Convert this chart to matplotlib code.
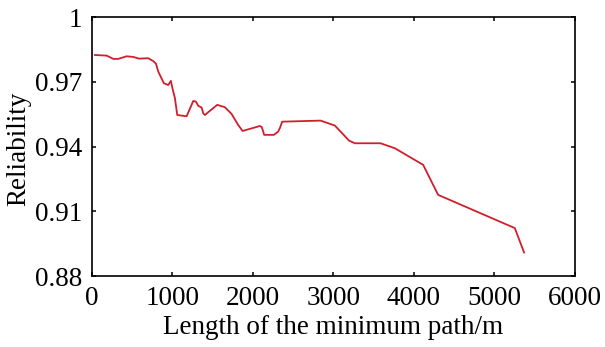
import matplotlib
matplotlib.use("Agg")
from matplotlib import pyplot as plt

# Datos
longitud = [37, 183, 265, 327, 431, 513, 588, 699, 761, 795, 824, 894, 948, 981,
            1002, 1031, 1060, 1176, 1259, 1292, 1320, 1363, 1383, 1404, 1445, 1557,
            1652, 1735, 1817, 1872, 2087, 2112, 2140, 2261, 2314, 2335, 2364, 2841,
            3019, 3196, 3267, 3586, 3764, 4116, 4302, 5255, 5370]
fiabilidad = [0.9824, 0.9821, 0.9806, 0.9806, 0.9818, 0.9815, 0.9807, 0.9809, 0.9796,
              0.9784, 0.9747, 0.9693, 0.9685, 0.9704, 0.9667, 0.9624, 0.9546, 0.9540,
              0.9611, 0.9608, 0.9589, 0.9580, 0.9554, 0.9546, 0.9559, 0.9593, 0.9582,
              0.9551, 0.9500, 0.9472, 0.9495, 0.9489, 0.9454, 0.9454, 0.9469, 0.9485,
              0.9515, 0.9520, 0.9497, 0.9427, 0.9415, 0.9415, 0.9392, 0.9315, 0.9176,
              0.9022, 0.8909]

xticks = [0, 1000, 2000, 3000, 4000, 5000, 6000]
yticks = [0.88, 0.91, 0.94, 0.97, 1.0]
ytick_labels = ["0.88", "0.91", "0.94", "0.97", "1"]

plt.rcParams['font.family'] = ['Liberation Serif', 'DejaVu Serif']

fig = plt.figure(figsize=(6.05, 3.47), dpi=100)
ax = fig.add_axes([0.152, 0.2046, 0.798, 0.7464])

ax.plot(longitud, fiabilidad, color='#d01f2b', linewidth=1.3)

ax.set_xlim(0, 6000)
ax.set_ylim(0.88, 1.0)
ax.set_xticks(xticks)
ax.set_yticks(yticks)
ax.set_yticklabels(ytick_labels)
ax.tick_params(direction='in', top=True, right=True, length=3.2, width=1.1,
               pad=7, labelsize=19.5)
for s in ax.spines.values():
    s.set_linewidth(1.2)

ax.set_xlabel("Length of the minimum path/m", fontsize=19.5)
ax.set_ylabel("Reliability", fontsize=19.5)
ax.xaxis.set_label_coords(0.5, -0.151)
ax.yaxis.set_label_coords(-0.126, 0.49)

fig.savefig("out.png", dpi=100)
